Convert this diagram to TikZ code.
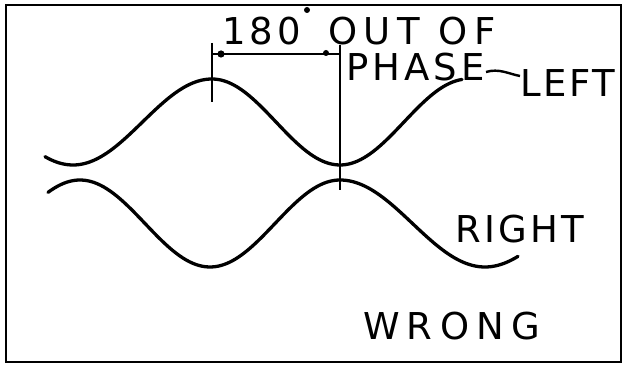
\documentclass[tikz,border=0pt]{standalone}
\usepackage{fontspec}
\newfontfamily\lettering{DejaVu Sans}
\tikzset{
  lbl/.style={inner sep=0pt, outer sep=0pt, anchor=base west, font=\lettering\fontsize{37}{40}\selectfont},
  wave/.style={line width=3.3pt, line cap=round, line join=round},
  thin/.style={line width=2.6pt},
}
\begin{document}
\begin{tikzpicture}[x=1pt,y=-1pt]
\useasboundingbox (0,0) rectangle (633,371);
% frame
\draw[line width=2.8pt] (6,5) rectangle (621,362);
% labels
\node[lbl] (t180) at (222,45) {\addfontfeature{LetterSpace=11}180};
\node[circle, fill, inner sep=0pt, minimum size=6pt] (deg) at (307,10) {};
\node[lbl] (tout) at (328,45) {\addfontfeature{LetterSpace=18}OUT OF};
\node[lbl] (tphase) at (346,81) {\addfontfeature{LetterSpace=11}PHASE};
\node[lbl] (tleft) at (520,97) {\addfontfeature{LetterSpace=7}LEFT};
\node[lbl] (tright) at (455,243) {\addfontfeature{LetterSpace=9}RIGHT};
\node[lbl] (twrong) at (363,340) {\addfontfeature{LetterSpace=20}WRONG};
% waves
\draw[wave] plot[domain=45:212, samples=60] (\x, {122-43*cos((\x-212)/139*180)})
  -- plot[domain=212:462, samples=80] (\x, {122-43*cos((\x-212)/128*180)});
\draw[wave] plot[domain=48:340, samples=90] (\x, {223.5-43.5*cos((\x-340)/130*180)})
  -- plot[domain=340:518, samples=60] (\x, {223.5-43.5*cos((\x-340)/145*180)});
% dimension marks
\coordinate (tkT) at (212,43);
\coordinate (tkB) at (212,102);
\coordinate (vT) at (340,45);
\coordinate (vB) at (340,190);
\coordinate (dL) at (212,54);
\coordinate (dR) at (340,54);
\draw[thin] (tkT) -- (tkB);
\draw[thin] (vT) -- (vB);
\draw[line width=2.2pt] (dL) -- (dR);
\fill (221,54) circle (3.6pt);
\fill (326,53) circle (3pt);
% leader to LEFT
\coordinate (ldA) at (486,72);
\coordinate (ldB) at (520,76);
\draw[line width=2.4pt] (ldA) .. controls (499,68) and (509,74) .. (ldB);
\end{tikzpicture}
\end{document}
